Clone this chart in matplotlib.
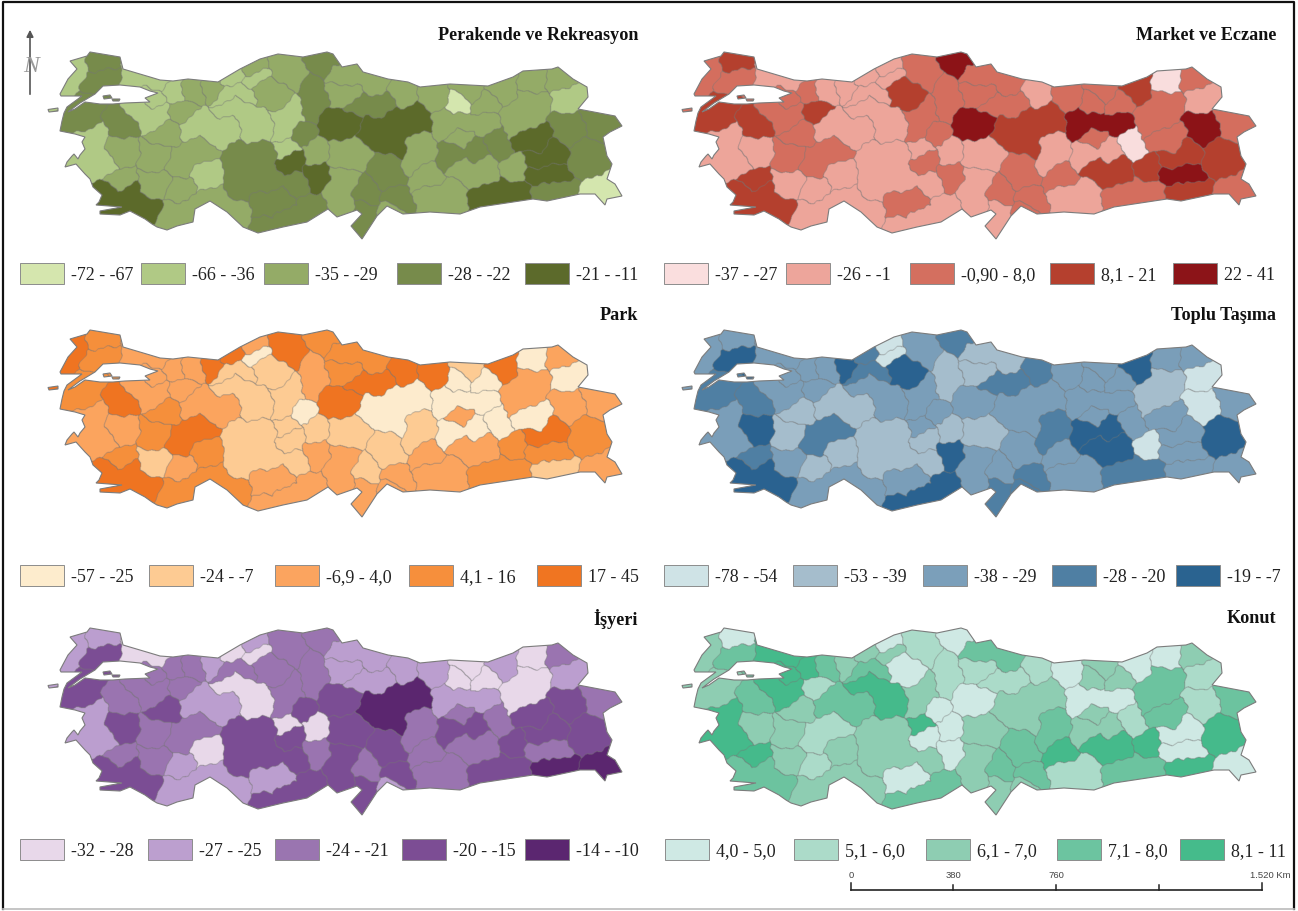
import numpy as np
import matplotlib
matplotlib.use('Agg')
import matplotlib.pyplot as plt
from matplotlib.path import Path
from matplotlib.patches import PathPatch, Rectangle

plt.rcParams['font.family'] = ['Liberation Serif', 'DejaVu Serif']

# provinces, each with one or more seed points (map units = pixels of the first panel)
provinces = ['Edirne', 'Kirklareli', 'Tekirdag', 'Istanbul', 'Kocaeli', 'Yalova', 'Sakarya', 'Duzce', 'Bolu',
             'Zonguldak', 'Bartin', 'Karabuk', 'Kastamonu', 'Sinop', 'Cankiri', 'Corum', 'Samsun', 'Amasya',
             'Tokat', 'Ordu', 'Giresun', 'Trabzon', 'Gumushane', 'Bayburt', 'Rize', 'Artvin', 'Ardahan', 'Kars',
             'Erzurum', 'Erzincan', 'Tunceli', 'Elazig', 'Bingol', 'Mus', 'Bitlis', 'Siirt', 'Batman', 'Diyarbakir',
             'Mardin', 'Sirnak', 'Hakkari', 'Van', 'Agri', 'Igdir', 'Sanliurfa', 'Adiyaman', 'Malatya', 'Kmaras',
             'Gaziantep', 'Kilis', 'Osmaniye', 'Adana', 'Kayseri', 'Hatay', 'Sivas', 'Yozgat', 'Nevsehir',
             'Kirsehir', 'Tuzgolu', 'Aksaray', 'Nigde', 'Konya', 'Karaman', 'Mersin', 'Antalya', 'Burdur', 'Isparta',
             'Afyon', 'Kutahya', 'Usak', 'Denizli', 'Mugla', 'Aydin', 'Izmir', 'Manisa', 'Balikesir', 'Canakkale',
             'Bursa', 'Bilecik', 'Eskisehir', 'Ankara', 'Kirikkale']

seeds = [
    [(72, 66), (74, 83), (67, 95)], [(103, 63)], [(107, 80), (90, 88)], [(135, 78), (162, 83)], [(173, 92)],
    [(153, 99)], [(193, 92)], [(213, 89)], [(225, 100), (245, 95)], [(232, 77)], [(252, 69)], [(255, 80)],
    [(287, 70), (297, 78)], [(327, 63), (320, 70)], [(278, 95), (263, 92)], [(317, 97), (310, 108), (312, 83)],
    [(353, 77), (337, 77), (377, 85)], [(350, 95), (337, 93)], [(380, 105), (357, 108)], [(402, 92)], [(433, 98)],
    [(470, 92)], [(460, 107)], [(483, 107)], [(503, 88)], [(533, 83)], [(560, 80)], [(568, 100)],
    [(520, 117), (533, 103), (517, 130)], [(463, 123), (447, 123), (483, 123)], [(463, 140)], [(453, 157), (473, 150)],
    [(500, 143)], [(537, 145), (523, 140)], [(550, 157), (535, 160)], [(535, 177), (553, 177)], [(518, 170)],
    [(483, 173), (463, 170)], [(503, 195), (487, 200), (525, 196)], [(557, 192), (540, 193)], [(602, 195)],
    [(587, 160)], [(570, 127)], [(597, 120)],
    [(450, 195), (433, 197)], [(427, 178)], [(417, 160), (420, 150)], [(387, 177), (387, 167)], [(395, 202)],
    [(390, 212)], [(367, 195)], [(340, 190), (343, 207), (343, 180)], [(353, 157), (340, 157)], [(365, 225), (363, 213)],
    [(393, 127), (417, 120), (373, 130), (393, 147)], [(333, 127), (350, 120)], [(317, 153)], [(302, 135)], [(287, 148)],
    [(292, 163)], [(317, 177)], [(253, 170), (243, 160), (270, 180), (237, 187), (297, 187), (263, 153)],
    [(283, 200), (263, 210)], [(287, 220), (263, 227), (310, 210)], [(170, 217), (187, 210), (217, 200), (240, 217)],
    [(180, 193)], [(207, 177)], [(197, 153), (180, 163)], [(167, 135)], [(158, 158)], [(157, 187)],
    [(127, 200), (150, 210), (110, 195)], [(117, 182)], [(92, 142), (73, 162), (107, 167)], [(120, 153)], [(123, 123)],
    [(82, 117), (75, 105), (88, 99)], [(147, 115), (137, 110), (157, 117)], [(183, 112)],
    [(210, 127), (193, 127), (227, 130)], [(250, 123), (240, 107), (263, 133), (227, 107)],
    [(288, 123), (283, 133), (295, 113)],
]

# class of every province (0 lightest .. 4 darkest), same order as provinces
perakende = [1,3,3,1,1,1,2,2,1,1,2,1,2,3,2,3,2,2,3,2,2,2,0,2,2,2,2,1,2,2,2,3,3,4,4,4,2,2,4,3,0,3,3,3,2,2,2,3,3,2,3,2,2,3,4,4,2,3,1,4,4,3,3,3,2,2,1,2,2,2,2,4,2,1,2,3,3,1,2,1,1,1]
market = [2,3,2,1,2,2,1,1,1,1,1,1,2,4,3,2,2,2,2,1,2,2,2,2,3,0,2,1,2,4,2,1,0,2,3,4,3,3,2,3,2,3,4,2,1,2,1,2,2,2,2,1,1,1,3,4,1,2,1,2,2,1,2,1,1,1,1,2,2,2,1,3,3,1,1,3,3,2,3,1,1,2]
park = [4,3,3,2,2,2,2,4,1,4,2,0,4,3,1,2,3,3,4,4,4,1,0,0,4,0,2,0,2,0,2,0,0,0,4,3,3,2,3,1,2,3,2,2,2,2,1,1,2,2,1,2,1,2,0,4,1,0,1,1,2,1,2,2,3,2,3,4,3,3,1,4,3,2,2,4,3,2,2,2,1,1]
toplu = [2,2,4,2,2,2,2,4,3,3,0,0,2,3,4,1,1,1,3,3,2,2,2,2,4,2,2,0,1,2,2,4,2,2,2,2,0,4,3,2,2,4,0,2,2,2,3,2,3,3,2,2,1,3,2,2,1,2,2,1,4,1,2,4,2,1,1,3,1,1,2,4,3,2,4,3,3,2,2,1,2,2]
isyeri = [1,1,3,0,2,2,2,1,2,0,1,0,2,2,2,2,1,1,1,1,1,0,0,0,1,0,2,1,0,1,2,3,2,3,3,2,3,2,3,4,4,3,3,2,2,2,2,3,3,1,2,3,3,3,4,3,0,3,0,3,2,3,1,3,1,1,0,2,3,2,2,3,2,1,3,2,3,2,2,1,0,2]
konut = [2,0,3,4,4,4,3,2,3,2,0,2,1,0,0,1,3,1,1,1,0,2,2,2,0,0,2,1,3,0,2,2,1,3,0,0,4,4,3,4,0,4,1,3,1,4,3,3,3,2,3,2,2,2,2,0,0,0,4,0,0,2,0,3,2,1,2,1,2,2,2,3,4,4,2,3,2,4,1,3,4,2]

titles = ['Perakende ve Rekreasyon', 'Market ve Eczane', 'Park', 'Toplu Taşıma', 'İşyeri', 'Konut']
tables = [perakende, market, park, toplu, isyeri, konut]
legend_labels = [
    ['-72 - -67', '-66 - -36', '-35 - -29', '-28 - -22', '-21 - -11'],
    ['-37 - -27', '-26 - -1', '-0,90 - 8,0', '8,1 - 21', '22 - 41'],
    ['-57 - -25', '-24 - -7', '-6,9 - 4,0', '4,1 - 16', '17 - 45'],
    ['-78 - -54', '-53 - -39', '-38 - -29', '-28 - -20', '-19 - -7'],
    ['-32 - -28', '-27 - -25', '-24 - -21', '-20 - -15', '-14 - -10'],
    ['4,0 - 5,0', '5,1 - 6,0', '6,1 - 7,0', '7,1 - 8,0', '8,1 - 11'],
]
palettes = [
    ['#d5e6ae', '#b0c985', '#94ab67', '#778b4b', '#5c6a2b'],
    ['#fadede', '#eda59b', '#d46f5f', '#b5402e', '#8c1418'],
    ['#fdeccd', '#fdcb93', '#fba45f', '#f68f3c', '#f07521'],
    ['#cfe3e6', '#a5bdcc', '#7b9fba', '#4f7fa3', '#2a6390'],
    ['#e8d8ea', '#bc9fcf', '#9a75b0', '#7c4d94', '#5b2670'],
    ['#cfe9e4', '#acdbc9', '#8ecdb2', '#6cc4a0', '#45bb8b'],
]
scale_ticks = ['0', '380', '760', '', '1.520 Km']

# coast of Turkey, map units
coast = [(150, 78), (160, 81), (173, 82), (188, 80), (218, 83), (240, 70), (260, 60), (278, 55), (303, 58), (327, 53), (333, 55),
         (342, 68), (357, 65), (363, 73), (388, 80), (408, 83), (420, 88), (450, 85), (488, 87), (513, 78), (523, 72),
         (552, 70), (558, 68), (573, 80), (587, 88), (588, 98), (578, 110), (615, 117), (622, 127), (610, 133),
         (603, 138), (607, 157), (612, 165), (607, 180), (615, 185), (622, 197), (607, 200), (605, 206), (595, 195),
         (580, 195), (547, 202), (533, 200), (480, 208), (460, 215), (430, 213), (403, 215), (387, 207), (377, 217),
         (362, 240), (351, 227), (362, 215), (357, 211), (337, 218), (328, 210), (307, 223), (283, 228), (258, 234),
         (243, 228), (227, 213), (210, 202), (195, 210), (193, 223), (177, 227), (167, 231), (157, 228), (152, 225),
         (145, 220), (130, 212), (120, 216), (100, 215), (100, 212), (122, 208), (96, 206), (99, 203), (102, 196),
         (93, 188), (90, 180), (85, 175), (76, 165), (65, 168), (67, 163), (72, 157), (74, 155), (78, 160), (80, 156),
         (85, 150), (82, 143), (85, 138), (75, 135), (60, 132), (62, 122), (64, 114), (67, 108), (82, 97), (61, 97),
         (60, 95), (68, 80), (77, 70), (70, 62), (87, 57), (90, 53), (120, 58), (123, 70)]
marmara = [(68, 113), (80, 104), (95, 95), (103, 87), (120, 86), (140, 88), (150, 92), (158, 94), (145, 99),
           (150, 103), (125, 104), (113, 105), (100, 105), (85, 103), (75, 110)]
islands = [[(48, 110.5), (58, 109), (58, 112), (49, 113)], [(103, 97), (110, 96), (112, 99), (104, 100)],
           [(112, 100), (120, 100), (119, 102), (113, 102)]]

panel_shift = [(0, 0), (634, 0), (0, 278), (634, 278), (0, 576), (634, 576)]
title_pos = [(638, 36), (1276, 36), (638, 316), (1276, 316), (638, 619), (1276, 619)]
legend_y = [264, 264, 566, 566, 840, 840]
swatch_x = [[20, 141, 264, 397, 525], [664, 786, 910, 1050, 1173], [20, 149, 275, 409, 537],
            [664, 793, 923, 1052, 1176], [20, 148, 275, 402, 525], [665, 794, 926, 1057, 1180]]


def ring(points, ccw=True):
    pts = np.array(points, dtype=float)
    area = np.sum(pts[:, 0] * np.roll(pts[:, 1], -1) - np.roll(pts[:, 0], -1) * pts[:, 1])
    if (area > 0) != ccw:
        pts = pts[::-1]
    return pts


def land_path(dx, dy):
    verts, codes = [], []
    for pts in [ring(coast), ring(marmara, False)] + [ring(i) for i in islands]:
        pts = pts + [dx, dy]
        verts += list(pts) + [pts[0]]
        codes += [Path.MOVETO] + [Path.LINETO] * (len(pts) - 1) + [Path.CLOSEPOLY]
    return Path(np.array(verts), codes)


# nearest seed decides the province of every raster cell, a little bend keeps borders from being ruler straight
x0, x1, y0, y1 = 40, 630, 45, 246
step = 0.5
gx, gy = np.meshgrid(np.arange(x0, x1, step) + step / 2, np.arange(y0, y1, step) + step / 2)
wx = gx + 1.6 * np.sin(gy / 4.3) + 0.8 * np.sin(gy / 1.7 + gx / 3.1)
wy = gy + 1.6 * np.sin(gx / 5.1) + 0.8 * np.sin(gx / 1.9 - gy / 2.9)
best = np.full(gx.shape, 1e9, dtype=np.float32)
label = np.zeros(gx.shape, dtype=np.int16)
for i, pts in enumerate(seeds):
    for sx, sy in pts:
        d = (wx - sx) ** 2 + (wy - sy) ** 2
        mask = d < best
        best[mask] = d[mask]
        label[mask] = i
border = np.zeros(label.shape, dtype=bool)
border[:-1, :] |= label[:-1, :] != label[1:, :]
border[:, :-1] |= label[:, :-1] != label[:, 1:]

fig = plt.figure(figsize=(12.98, 9.12), dpi=100)
ax = fig.add_axes([0, 0, 1, 1])

for k in range(6):
    dx, dy = panel_shift[k]
    lut = np.array([matplotlib.colors.to_rgb(c) for c in palettes[k]])
    rgb = lut[np.array(tables[k])[label]]
    rgb[border] = matplotlib.colors.to_rgb('#757575')
    im = ax.imshow(rgb, extent=(x0 + dx, x1 + dx, y1 + dy, y0 + dy), interpolation='bilinear', aspect='auto', zorder=1)
    land = land_path(dx, dy)
    edge = PathPatch(land, facecolor='none', edgecolor='#7c7c7c', lw=0.8, zorder=2)
    ax.add_patch(edge)
    im.set_clip_path(PathPatch(land, transform=ax.transData))

    ax.text(title_pos[k][0], title_pos[k][1], titles[k], ha='right', va='center', fontsize=13.1, fontweight='bold',
            color='#111111', zorder=5)
    for j in range(5):
        ax.add_patch(Rectangle((swatch_x[k][j], legend_y[k]), 44, 21, facecolor=palettes[k][j], edgecolor='#8c8c8c',
                               lw=0.7, zorder=3))
        ax.text(swatch_x[k][j] + 51, legend_y[k] + 12, legend_labels[k][j], ha='left', va='center', fontsize=13,
                color='#222222', zorder=5)

# scale bar
bar_x = [851, 953, 1056, 1159, 1262]
ax.plot([bar_x[0], bar_x[-1]], [891, 891], color='#222222', lw=1.2, zorder=4)
for i, bx in enumerate(bar_x):
    ax.plot([bx, bx], [884 if i in (0, 4) else 886, 891], color='#222222', lw=1.1, zorder=4)
    if scale_ticks[i]:
        ax.text(bx if i < 4 else bx + 8, 876, scale_ticks[i], ha='center', va='center', fontsize=6.8,
                family='Liberation Sans', color='#444444', zorder=5)

# north arrow
ax.annotate('', xy=(30, 28), xytext=(30, 98), arrowprops=dict(arrowstyle='-|>', color='#555555', lw=1.2), zorder=5)
ax.text(31, 67, 'N', fontsize=17, style='italic', color='#999999', ha='center', va='center', zorder=5)

# frame
ax.plot([3, 3, 1294, 1294], [910, 3, 3, 910], color='#111111', lw=1.6, zorder=6)
ax.plot([3, 1294], [910, 910], color='#bbbbbb', lw=1.2, zorder=6)

ax.set_xlim(0, 1298)
ax.set_ylim(912, 0)
ax.axis('off')
fig.savefig('out.png', dpi=100, facecolor='white')
